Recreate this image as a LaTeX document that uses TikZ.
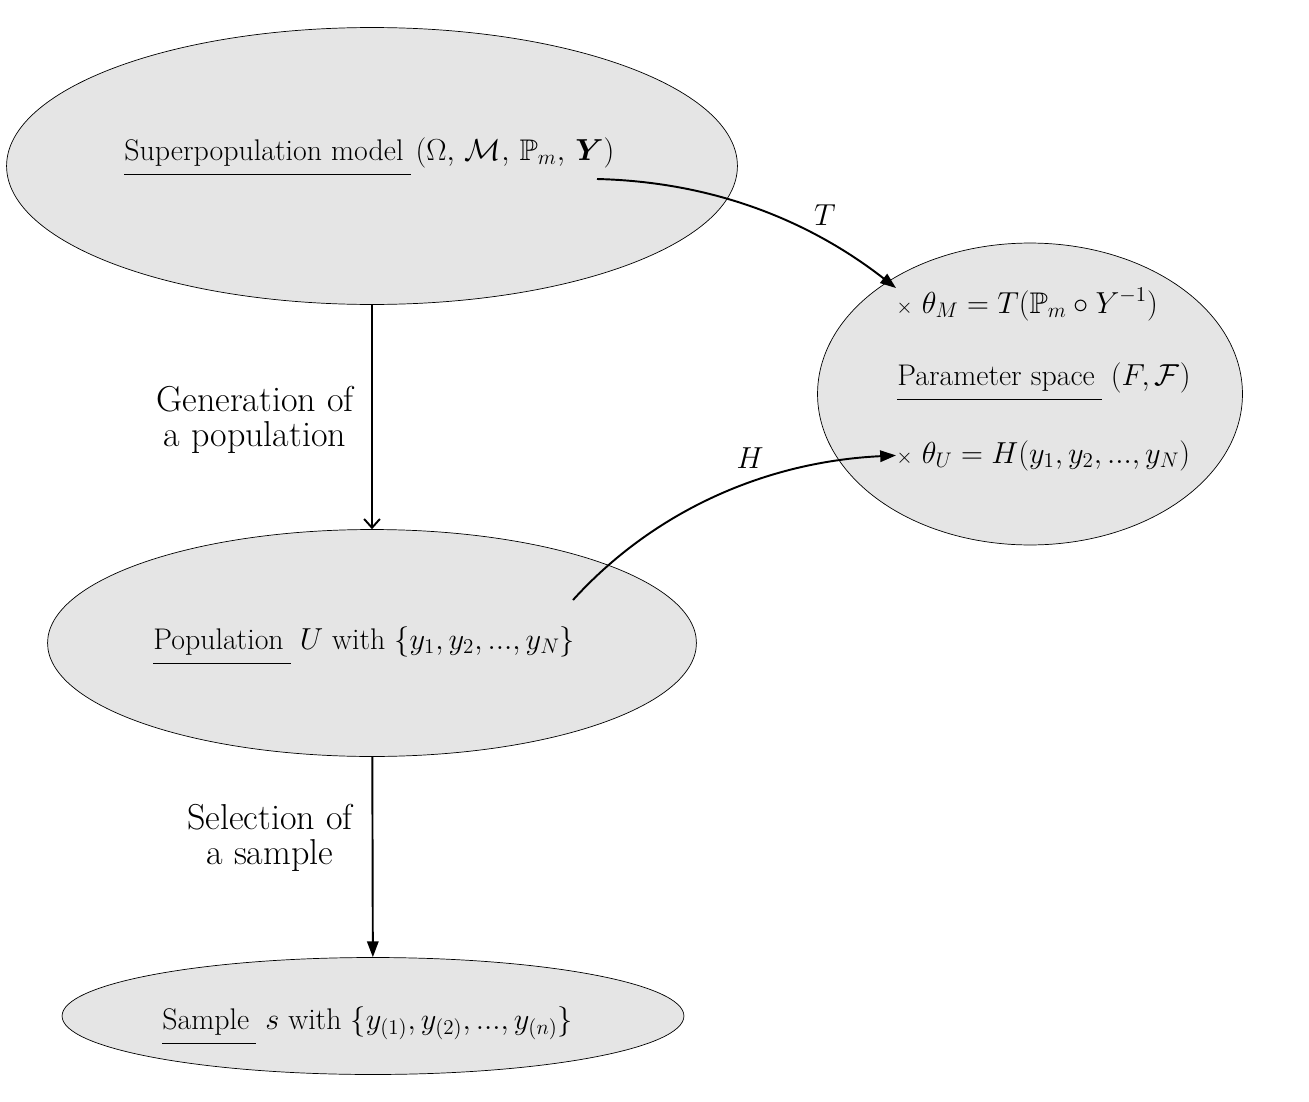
\documentclass[tikz,border=0pt]{standalone}
\usepackage{amsmath,amssymb,bm}
\usetikzlibrary{shapes.geometric,arrows.meta}

\newcommand{\ulword}[1]{\underline{#1\hspace{4pt}\rule[-6pt]{0pt}{6pt}}}

\begin{document}
\begin{tikzpicture}[x=0.02cm,y=-0.02cm,
  blob/.style={ellipse,draw,fill=gray!20,inner sep=0pt},
  txt/.style={anchor=base west,inner sep=0pt,font=\fontsize{17}{20}\selectfont},
  lbl/.style={align=center,inner sep=0pt,font=\fontsize{20.5}{20}\selectfont},
  link/.style={line width=1.1pt,-{Triangle[length=9pt,width=6.5pt]}}]
\useasboundingbox (0,0) rectangle (1309,1102);
% the four sets
\node[blob,minimum width=14.62cm,minimum height=5.54cm] (sup) at (372,166) {};
\node[blob,minimum width=8.5cm,minimum height=6.04cm] (par) at (1030,394) {};
\node[blob,minimum width=12.98cm,minimum height=4.54cm] (pop) at (372,643) {};
\node[blob,minimum width=12.44cm,minimum height=2.34cm] (sam) at (373,1016) {};
% texts inside
\node[txt] (suptext) at (124,160) {\ulword{Superpopulation model}\,$(\Omega,\,\mathcal{M},\,\mathbb{P}_m,\,\bm{Y})$};
\node[txt] (thM) at (896,313) {$\scriptstyle\times\ \textstyle\theta_M = T(\mathbb{P}_m\circ Y^{-1})$};
\node[txt] (partext) at (897,385) {\ulword{Parameter space} $(F,\mathcal{F})$};
\node[txt] (thU) at (896,463) {$\scriptstyle\times\ \textstyle\theta_U = H(y_1,y_2,...,y_N)$};
\node[txt] (poptext) at (153,649) {\ulword{Population} $U$ with $\{y_1,y_2,...,y_N\}$};
\node[txt] (samtext) at (162,1029) {\ulword{Sample} $s$ with $\{y_{(1)},y_{(2)},...,y_{(n)}\}$};
% vertical steps
\draw[line width=1.1pt,-{Straight Barb[length=5pt,width=9pt]}] (sup) -- (pop);
\draw[link] (pop) -- (sam);
\node[lbl] (gen) at (255,420) {Generation of\\a population};
\node[lbl] (sel) at (270,838) {Selection of\\a sample};
% maps into the parameter space
\coordinate (tstart) at (597,179);
\coordinate (hstart) at (573,600);
\draw[link] (tstart) .. controls (720,182) and (815,225) .. (thM.north west);
\draw[link] (hstart) .. controls (650,515) and (760,462) .. (thU.west);
\node (tlab) at (825,215) {\fontsize{17}{20}\selectfont$T$};
\node (hlab) at (750,458) {\fontsize{17}{20}\selectfont$H$};
\end{tikzpicture}
\end{document}
